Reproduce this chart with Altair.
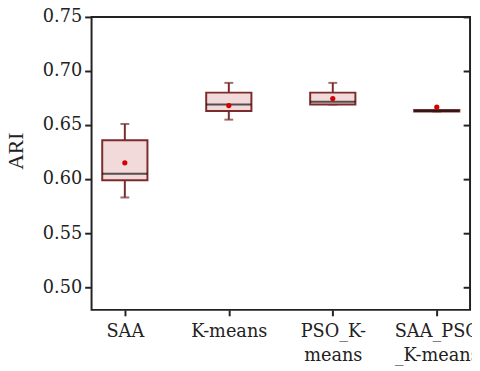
import altair as alt
import pandas as pd

methods = ["SAA", "K-means", "PSO_K-means", "SAA_PSO_K-means"]
lower = [0.583, 0.655, 0.669, 0.6625]
q1 = [0.599, 0.663, 0.669, 0.6625]
median = [0.605, 0.669, 0.6715, 0.663]
q3 = [0.636, 0.680, 0.680, 0.664]
upper = [0.651, 0.689, 0.689, 0.664]
mean = [0.615, 0.668, 0.6745, 0.6666]

df = pd.DataFrame({"method": methods, "lower": lower, "q1": q1, "median": median,
                   "q3": q3, "upper": upper, "mean": mean})

FONT = "Liberation Serif"
LFONT = "DejaVu Serif"
EDGE = "#7b2b2b"
FILL = "#f3dada"
TICKS = [0.50, 0.55, 0.60, 0.65, 0.70, 0.75]

label_expr = ("datum.value == 'PSO_K-means' ? ['PSO_K-', 'means'] : "
              "datum.value == 'SAA_PSO_K-means' ? ['SAA_PSO', '_K-means'] : datum.value")

x = alt.X("method:N", sort=methods, title=None,
          scale=alt.Scale(type="point", padding=0.32),
          axis=alt.Axis(labelAngle=0, labelExpr=label_expr, labelLineHeight=24,
                        tickSize=6, tickWidth=2, tickColor="#222", domain=False,
                        labelPadding=7, labelBaseline="top", labelFont=LFONT,
                        labelFontSize=18))
yscale = alt.Scale(domain=[0.479, 0.75], nice=False, zero=False)
yaxis = alt.Axis(values=TICKS, format=".2f", title="ARI", tickSize=7, tickWidth=2,
                 tickColor="#222", domain=False, grid=False, labelPadding=3, titlePadding=15,
                 titleY=136, labelFont=LFONT, labelFontSize=18, titleFont=FONT)

base = alt.Chart(df)

whisker = base.mark_rule(color=EDGE, strokeWidth=2).encode(
    x=x, y=alt.Y("lower:Q", scale=yscale, axis=yaxis), y2="upper:Q")
cap_lo = base.mark_tick(color=EDGE, size=9, thickness=2).encode(
    x=x, y=alt.Y("lower:Q", scale=yscale, axis=None))
cap_hi = base.mark_tick(color=EDGE, size=9, thickness=2).encode(
    x=x, y=alt.Y("upper:Q", scale=yscale, axis=None))
box = base.mark_bar(size=46, fill=FILL, stroke=EDGE, strokeWidth=2).encode(
    x=x, y=alt.Y("q1:Q", scale=yscale, axis=None), y2="q3:Q")
med = base.mark_tick(color="#111111", size=46, thickness=2).encode(
    x=x, y=alt.Y("median:Q", scale=yscale, axis=None))
mn = base.mark_point(filled=True, color="#d40000", size=28, opacity=1).encode(
    x=x, y=alt.Y("mean:Q", scale=yscale, axis=None))

right_ticks = base.mark_rule(opacity=0).encode(
    x=x,
    y=alt.Y("mean:Q", scale=yscale,
            axis=alt.Axis(orient="right", values=TICKS,
                          labels=False, title=None, tickSize=7, tickWidth=2, tickColor="#222",
                          domain=False, grid=False, offset=-7)))

chart = alt.layer(whisker, right_ticks, cap_lo, cap_hi, box, med, mn).resolve_scale(
    y="shared").resolve_axis(y="independent").properties(
    width=385, height=298,
    background="white",
    autosize=alt.AutoSizeParams(type="none"),
    padding={"left": 85, "top": 6, "right": 2, "bottom": 55},
).configure_view(stroke="#222", strokeWidth=2).configure_axis(
    labelColor="#222", titleFontSize=22, titleFontWeight="normal", titleColor="#222")

chart.save("out.html", embed_options={"renderer": "svg", "actions": False})
